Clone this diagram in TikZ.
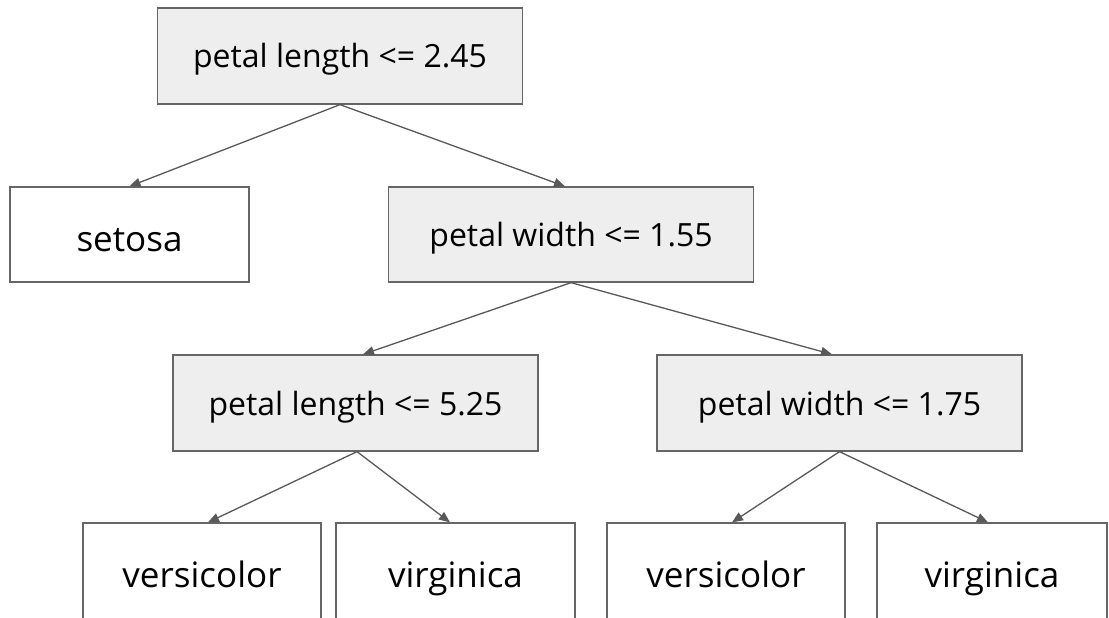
\documentclass[tikz,border=0pt]{standalone}
\usepackage{fontspec}
\setmainfont{Open Sans}
\usetikzlibrary{arrows.meta}
\definecolor{boxfill}{HTML}{EEEEEE}
\definecolor{boxline}{HTML}{666666}
\definecolor{arrline}{HTML}{595959}
\tikzset{
  nodebox/.style={draw=boxline, line width=1.3pt, rectangle, inner sep=0pt, anchor=center, text depth=0pt},
  split/.style={nodebox, fill=boxfill, font=\fontsize{32}{38}\selectfont, text height=24pt, minimum width=365pt, minimum height=96pt},
  leafbox/.style={nodebox, fill=white, font=\fontsize{35}{42}\selectfont, text height=33pt, minimum height=96pt},
  arr/.style={draw=arrline, line width=1.3pt, -{Triangle[length=11pt,width=9pt]}}
}
\begin{document}
\begin{tikzpicture}[x=1pt,y=-1pt]
\useasboundingbox (0,0) rectangle (1109,618);
\clip (0,0) rectangle (1109,618);
\fill[white] (0,0) rectangle (1109,618);
\node[split] (root) at (340,56) {petal length <= 2.45};
\node[leafbox, minimum width=239pt, minimum height=95pt] (setosa) at (129.5,234.5) {setosa};
\node[split, minimum height=95pt] (pw1) at (571,234.5) {petal width <= 1.55};
\node[split] (pl2) at (355.5,403) {petal length <= 5.25};
\node[split] (pw2) at (839.5,403) {petal width <= 1.75};
\node[leafbox, minimum width=238pt] (l1) at (202,571) {versicolor};
\node[leafbox, minimum width=239pt] (l2) at (455.5,571) {virginica};
\node[leafbox, minimum width=238pt] (l3) at (726,571) {versicolor};
\node[leafbox, minimum width=230pt] (l4) at (992,571) {virginica};
\draw[arr] (root.south) -- (setosa.north);
\draw[arr] (root.south) -- ([xshift=-6pt]pw1.north);
\draw[arr] (pw1.south) -- ([xshift=7.5pt]pl2.north);
\draw[arr] (pw1.south) -- ([xshift=-7.5pt]pw2.north);
\draw[arr] ([xshift=1.5pt]pl2.south) -- ([xshift=6pt]l1.north);
\draw[arr] ([xshift=1.5pt]pl2.south) -- ([xshift=-5.5pt]l2.north);
\draw[arr] (pw2.south) -- ([xshift=6pt]l3.north);
\draw[arr] (pw2.south) -- ([xshift=-4pt]l4.north);
\end{tikzpicture}
\end{document}
